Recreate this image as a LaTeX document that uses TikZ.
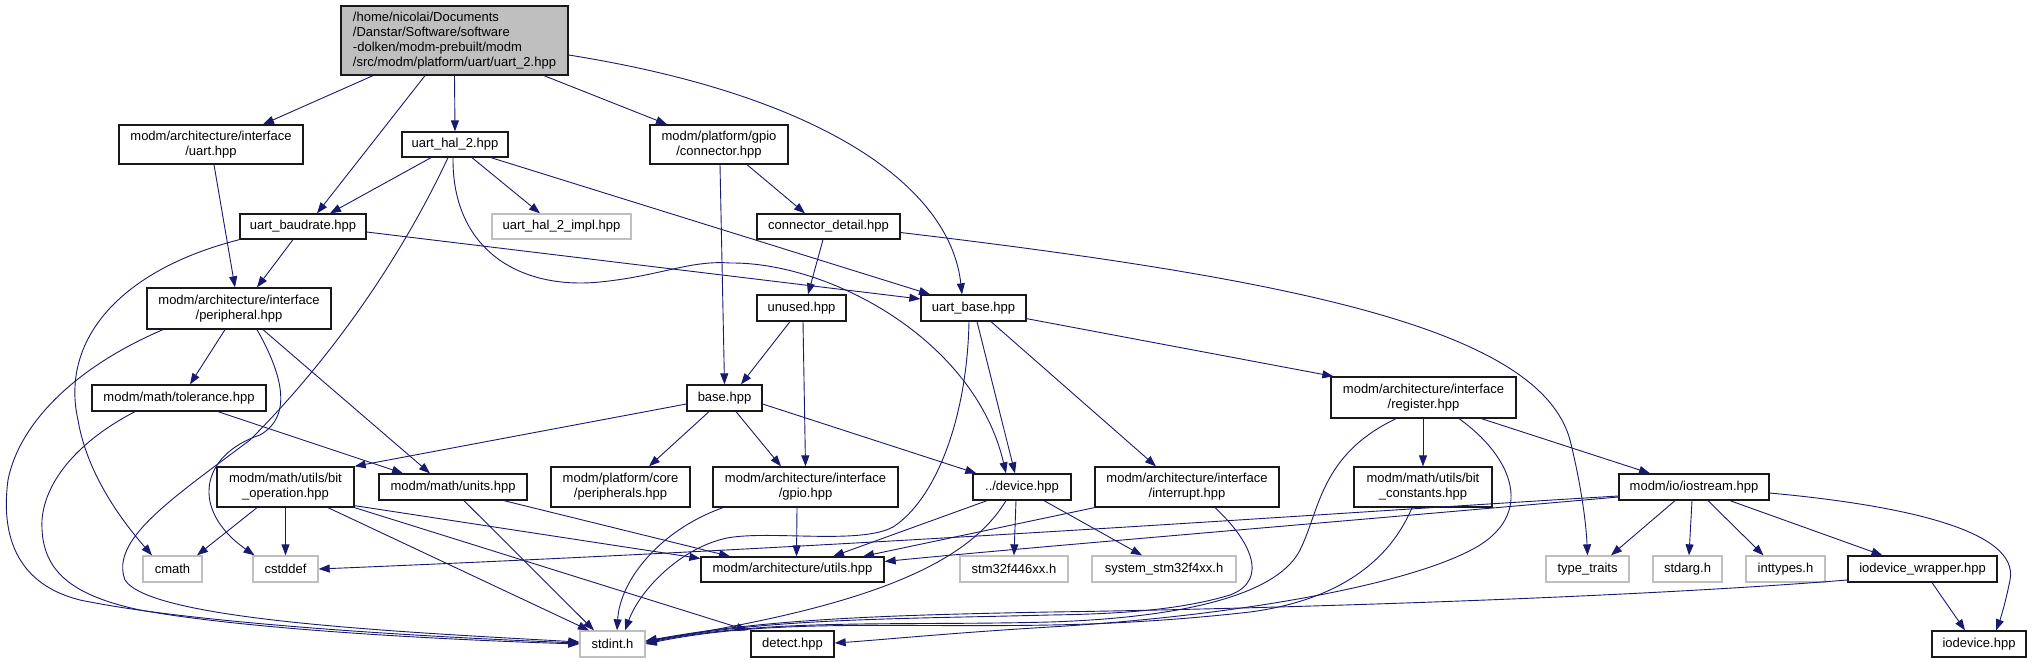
\documentclass[tikz,border=0pt]{standalone}
\usepackage{fontspec}
\setmainfont{Liberation Sans}
\usetikzlibrary{arrows.meta}
\definecolor{edgecol}{HTML}{191970}
\definecolor{greyb}{HTML}{BFBFBF}
\begin{document}
\begin{tikzpicture}[x=1pt,y=-1pt,
  box/.style={draw=black!90, line width=1.3pt, fill=white, inner sep=0pt, font=\fontsize{13}{15}\selectfont, align=center},
  gbox/.style={box, draw=greyb},
  sz/.style 2 args={minimum width=#1pt, minimum height=#2pt},
  edge/.style={draw=edgecol, line width=0.9pt, -{Triangle[length=11pt,width=8pt]}},
]
\useasboundingbox[fill=white] (0,0) rectangle (2032,663);
% nodes
\node[box, sz={227}{69}, fill=greyb, align=left] (root) at (454.5,40.5) {/home/nicolai/Documents\\/Danstar/Software/software\\-dolken/modm-prebuilt/modm\\/src/modm/platform/uart/uart\_2.hpp};
\node[box, sz={184}{39}] (uart) at (211,144.5) {modm/architecture/interface\\/uart.hpp};
\node[box, sz={106}{25}] (hal2) at (455,144.5) {uart\_hal\_2.hpp};
\node[box, sz={138}{39}] (conn) at (719,144.5) {modm/platform/gpio\\/connector.hpp};
\node[box, sz={126}{25}] (baud) at (303,226.5) {uart\_baudrate.hpp};
\node[gbox, sz={139}{25}] (impl) at (561.5,226.5) {uart\_hal\_2\_impl.hpp};
\node[box, sz={143}{25}] (cdet) at (828.5,226.5) {connector\_detail.hpp};
\node[box, sz={184}{41}] (periph) at (239,308.5) {modm/architecture/interface\\/peripheral.hpp};
\node[box, sz={89}{26}] (unused) at (801.5,308) {unused.hpp};
\node[box, sz={105}{26}] (ubase) at (973.5,308) {uart\_base.hpp};
\node[box, sz={174}{26}] (tol) at (179,398) {modm/math/tolerance.hpp};
\node[box, sz={75}{26}] (base) at (724.5,398) {base.hpp};
\node[box, sz={185}{41}] (reg) at (1423.5,397.5) {modm/architecture/interface\\/register.hpp};
\node[box, sz={137}{40}] (bitop) at (285.5,487) {modm/math/utils/bit\\\_operation.hpp};
\node[box, sz={148}{26}] (units) at (453,487) {modm/math/units.hpp};
\node[box, sz={139}{40}] (corep) at (620.5,487) {modm/platform/core\\/peripherals.hpp};
\node[box, sz={185}{40}] (gpio) at (805.5,487) {modm/architecture/interface\\/gpio.hpp};
\node[box, sz={98}{26}] (device) at (1022,487) {../device.hpp};
\node[box, sz={184}{40}] (intr) at (1187,487) {modm/architecture/interface\\/interrupt.hpp};
\node[box, sz={138}{40}] (bitc) at (1423,487) {modm/math/utils/bit\\\_constants.hpp};
\node[box, sz={150}{26}] (iostr) at (1694,487) {modm/io/iostream.hpp};
\node[gbox, sz={59}{26}] (cmath) at (172.5,569) {cmath};
\node[gbox, sz={65}{26}] (cstddef) at (285.5,569) {cstddef};
\node[box, sz={183}{25}] (utils) at (792.5,569.5) {modm/architecture/utils.hpp};
\node[gbox, sz={108}{26}] (stm) at (1014,569) {stm32f446xx.h};
\node[gbox, sz={144}{26}] (sys) at (1164,569) {system\_stm32f4xx.h};
\node[gbox, sz={83}{26}] (tt) at (1587.5,569) {type\_traits};
\node[gbox, sz={69}{26}] (stdarg) at (1687.5,569) {stdarg.h};
\node[gbox, sz={79}{26}] (intt) at (1785.5,569) {inttypes.h};
\node[box, sz={149}{26}] (iow) at (1922.5,569) {iodevice\_wrapper.hpp};
\node[gbox, sz={65}{26}] (stdint) at (612.5,644) {stdint.h};
\node[box, sz={83}{26}] (detect) at (792.5,644) {detect.hpp};
\node[box, sz={94}{26}] (iodev) at (1979,644) {iodevice.hpp};
% edges
\draw[edge] ([xshift=-81.5]root.south) -- ([xshift=52]uart.north);
\draw[edge] ([xshift=-29.5]root.south) -- ([xshift=14]baud.north);
\draw[edge] (root.south) -- (hal2.north);
\draw[edge] ([xshift=89.5]root.south) -- ([xshift=-52]conn.north);
\draw[edge] ([yshift=-14.5]root.east) .. controls (820,95) and (950,185) .. ([xshift=-11.5]ubase.north);
\draw[edge] ([xshift=3]uart.south) -- ([xshift=-4]periph.north);
\draw[edge] ([xshift=-24]hal2.south) -- ([xshift=27]baud.north);
\draw[edge] ([xshift=17]hal2.south) -- ([xshift=-21.5]impl.north);
\draw[edge] ([xshift=36]hal2.south) -- ([xshift=-43.5]ubase.north);
\draw[edge] ([xshift=-7]hal2.south) .. controls (400,260) and (330,360) .. (250,440) .. controls (170,500) and (110,540) .. (125,580) .. controls (150,620) and (400,632) .. ([yshift=2]stdint.west);
\draw[edge] ([xshift=-2]hal2.south) .. controls (452,250) and (520,290) .. (600,282) .. controls (660,276) and (690,260) .. (730,263) .. controls (830,262) and (975,340) .. ([xshift=-16]device.north);
\draw[edge] (baud.south west) .. controls (120,270) and (60,340) .. (78,420) .. controls (88,480) and (130,530) .. ([xshift=-20.5]cmath.north);
\draw[edge] ([xshift=-10]baud.south) -- ([xshift=18]periph.north);
\draw[edge] ([yshift=-5.5]baud.east) -- ([yshift=9]ubase.west);
\draw[edge] ([xshift=1]conn.south) -- (base.north);
\draw[edge] ([xshift=28]conn.south) -- ([xshift=-23.5]cdet.north);
\draw[edge] ([xshift=-5.5]cdet.south) -- ([xshift=6.5]unused.north);
\draw[edge] ([yshift=-6]cdet.east) .. controls (1300,280) and (1540,330) .. (1570,440) .. controls (1580,480) and (1586,520) .. (tt.north);
\draw[edge] ([xshift=-11.5]unused.south) -- ([xshift=16.5]base.north);
\draw[edge] ([xshift=1.5]unused.south) -- (gpio.north);
\draw[edge] ([xshift=-14]periph.south) -- ([xshift=11]tol.north);
\draw[edge] ([xshift=24]periph.south) -- ([xshift=-23]units.north);
\draw[edge] ([xshift=18]periph.south) .. controls (280,370) and (295,415) .. (260,435) .. controls (200,455) and (190,510) .. ([xshift=-31]cstddef.north);
\draw[edge] ([xshift=-76]periph.south) .. controls (80,365) and (20,420) .. (8,480) .. controls (0,540) and (20,585) .. (80,600) .. controls (200,625) and (450,638) .. ([yshift=1]stdint.west);
\draw[edge] ([xshift=-44]tol.south) .. controls (80,440) and (45,480) .. (42,520) .. controls (40,570) and (70,595) .. (140,610) .. controls (250,630) and (450,640) .. (stdint.west);
\draw[edge] ([xshift=39]tol.south) -- ([xshift=-50]units.north);
\draw[edge] ([yshift=3]ubase.south east) -- ([xshift=3]reg.north west);
\draw[edge] ([xshift=3.5]ubase.south) -- ([xshift=-7]device.north);
\draw[edge] ([xshift=17.5]ubase.south) -- ([xshift=-31]intr.north);
\draw[edge] ([xshift=-4.5]ubase.south) .. controls (967,420) and (935,500) .. (893,527) .. controls (860,545) and (770,530) .. (727,538) .. controls (680,548) and (640,590) .. ([xshift=12.5]stdint.north);
\draw[edge] ([yshift=-6]base.west) -- (bitop.north east);
\draw[edge] ([xshift=-15.5]base.south) -- ([xshift=28.5]corep.north);
\draw[edge] ([xshift=11.5]base.south) -- ([xshift=-24.5]gpio.north);
\draw[edge] ([yshift=-6]base.east) -- ([xshift=4]device.north west);
\draw[edge] ([xshift=-8.5]gpio.south) -- ([xshift=4]utils.north);
\draw[edge] ([xshift=-82.5]gpio.south) .. controls (660,530) and (620,580) .. ([xshift=4.5]stdint.north);
\draw[edge] ([xshift=-28.5]bitop.south) -- ([xshift=24.5]cmath.north);
\draw[edge] (bitop.south) -- (cstddef.north);
\draw[edge] ([xshift=42.5]bitop.south) -- ([xshift=-23.5]stdint.north);
\draw[edge] ([yshift=2]bitop.south east) -- ([yshift=11]utils.west);
\draw[edge] (bitop.south east) -- ([xshift=-3]detect.north west);
\draw[edge] ([xshift=11]units.south) -- ([xshift=-18.5]stdint.north);
\draw[edge] ([xshift=51]units.south) -- ([xshift=-62.5]utils.north);
\draw[edge] ([xshift=-35]device.south) -- ([xshift=40.5]utils.north);
\draw[edge] ([xshift=-16]device.south) .. controls (970,560) and (880,605) .. ([yshift=3]stdint.east);
\draw[edge] ([xshift=-6]device.south) -- (stm.north);
\draw[edge] ([xshift=22]device.south) -- ([xshift=-22]sys.north);
\draw[edge] (intr.south west) -- ([xshift=70.5]utils.north);
\draw[edge] ([xshift=28]intr.south) .. controls (1250,540) and (1270,580) .. (1230,595) .. controls (1180,610) and (1120,614) .. (1050,615) .. controls (900,619) and (770,618) .. ([yshift=2]stdint.east);
\draw[edge] ([xshift=-0.5]reg.south) -- (bitc.north);
\draw[edge] ([xshift=58]reg.south) -- ([xshift=-44]iostr.north);
\draw[edge] ([xshift=-27.5]reg.south) .. controls (1320,455) and (1320,510) .. (1300,550) .. controls (1280,590) and (1200,617) .. (1050,622) .. controls (900,626) and (770,618) .. ([yshift=1]stdint.east);
\draw[edge] ([xshift=35.5]reg.south) .. controls (1510,455) and (1535,510) .. (1480,545) .. controls (1420,582) and (1250,615) .. (1050,627) .. controls (950,633) and (880,640) .. ([yshift=1]detect.east);
\draw[edge] ([xshift=-11]bitc.south) .. controls (1390,560) and (1340,600) .. (1250,612) .. controls (1180,620) and (1110,624) .. (1050,625) .. controls (900,628) and (770,618) .. (stdint.east);
\draw[edge] ([yshift=-9]iostr.west) .. controls (1300,515) and (900,545) .. (cstddef.east);
\draw[edge] ([yshift=-10]iostr.west) .. controls (1300,525) and (1000,550) .. ([yshift=8]utils.east);
\draw[edge] ([xshift=-19]iostr.south) -- ([xshift=23.5]tt.north);
\draw[edge] ([xshift=-2]iostr.south) -- ([xshift=1.5]stdarg.north);
\draw[edge] ([xshift=14]iostr.south) -- ([xshift=-22]intt.north);
\draw[edge] ([xshift=36]iostr.south) -- ([xshift=-40]iow.north);
\draw[edge] ([yshift=-6]iostr.east) .. controls (1900,505) and (2020,530) .. (2010,580) .. controls (2005,605) and (2000,620) .. ([xshift=17]iodev.north);
\draw[edge] ([xshift=9.5]iow.south) -- ([xshift=-14]iodev.north);
\draw[edge] ([yshift=-11]iow.west) .. controls (1600,600) and (1200,610) .. (1050,612) .. controls (900,615) and (770,618) .. ([yshift=3]stdint.east);
\end{tikzpicture}
\end{document}
